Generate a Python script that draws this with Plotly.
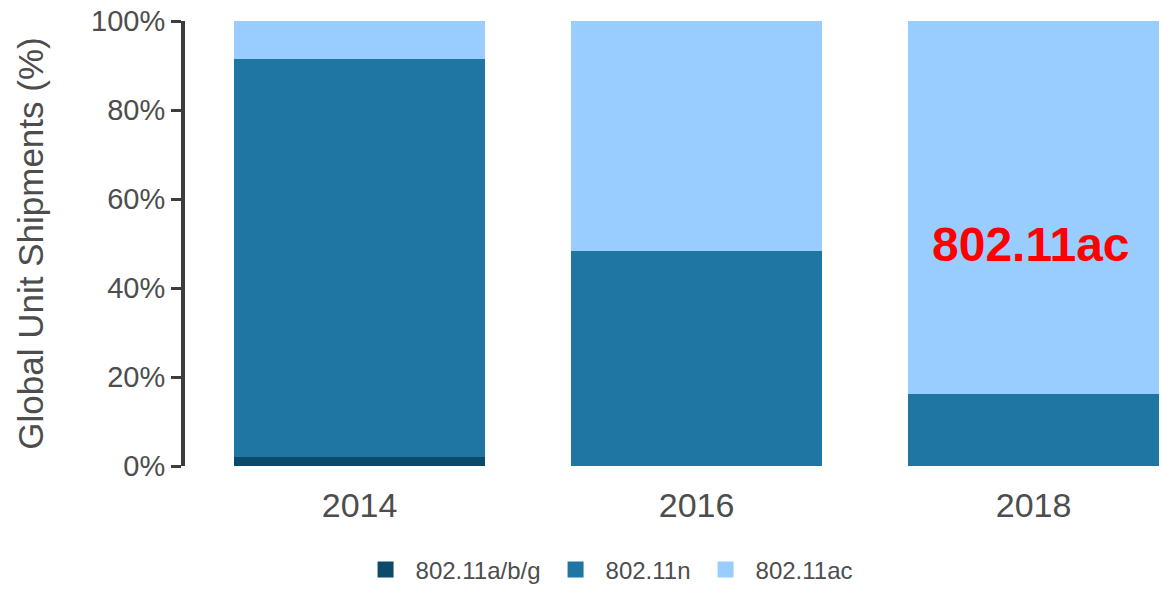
import plotly.graph_objects as go

years = ["2014", "2016", "2018"]
abg = [0.02, 0.0, 0.0]
n = [0.895, 0.484, 0.162]
ac = [0.085, 0.516, 0.838]
series_names = ["802.11a/b/g", "802.11n", "802.11ac"]
colors = ["#0b4a6b", "#1f76a3", "#99ccff"]
y_ticks = [0, 0.2, 0.4, 0.6, 0.8, 1.0]

FONT = "Liberation Sans, Arial, sans-serif"

fig = go.Figure()
for name, vals, col in zip(series_names, [abg, n, ac], colors):
    fig.add_trace(go.Bar(x=years, y=vals, name=name, showlegend=False,
                         marker=dict(color=col, line=dict(width=0))))
# legend entries (square swatches)
for name, col in zip(series_names, colors):
    fig.add_trace(go.Scatter(x=[None], y=[None], mode="markers", name=name,
                             marker=dict(symbol="square", size=20, color=col)))

fig.add_annotation(x=2, y=0.497, xref="x", yref="y", text="<b>802.11ac</b>", showarrow=False,
                   font=dict(family=FONT, size=48, color="#ff0000"), xshift=-3)

fig.update_layout(
    barmode="stack",
    bargap=0.255,
    width=1162, height=598,
    margin=dict(l=185, r=0, t=21, b=132, autoexpand=False),
    plot_bgcolor="white", paper_bgcolor="white",
    font=dict(family=FONT, color="#4d4d4d"),
    showlegend=True,
    legend=dict(orientation="h", xref="container", yref="container", x=0.522, y=0.047,
                xanchor="center", yanchor="middle", font=dict(size=24, color="#4d4d4d"),
                traceorder="normal", itemwidth=50),
    xaxis=dict(type="category", range=[-0.518, 2.381], showline=False, showgrid=False, ticks="",
               tickfont=dict(size=34, color="#4d4d4d"), ticklabelstandoff=16, automargin=False),
    yaxis=dict(range=[0, 1], tickvals=y_ticks, tickformat=".0%", showgrid=False, zeroline=False,
               showline=True, linecolor="#3d3d3d", linewidth=4, ticks="outside", ticklen=10,
               tickwidth=3, tickcolor="#3d3d3d", tickfont=dict(size=29, color="#4d4d4d"),
               automargin=False,
               title=dict(text="Global Unit Shipments (%)", font=dict(size=35, color="#4d4d4d"),
                          standoff=38)),
)

fig.write_html("out.html", config={"displayModeBar": False},
               post_script="document.body.style.margin='0';")
